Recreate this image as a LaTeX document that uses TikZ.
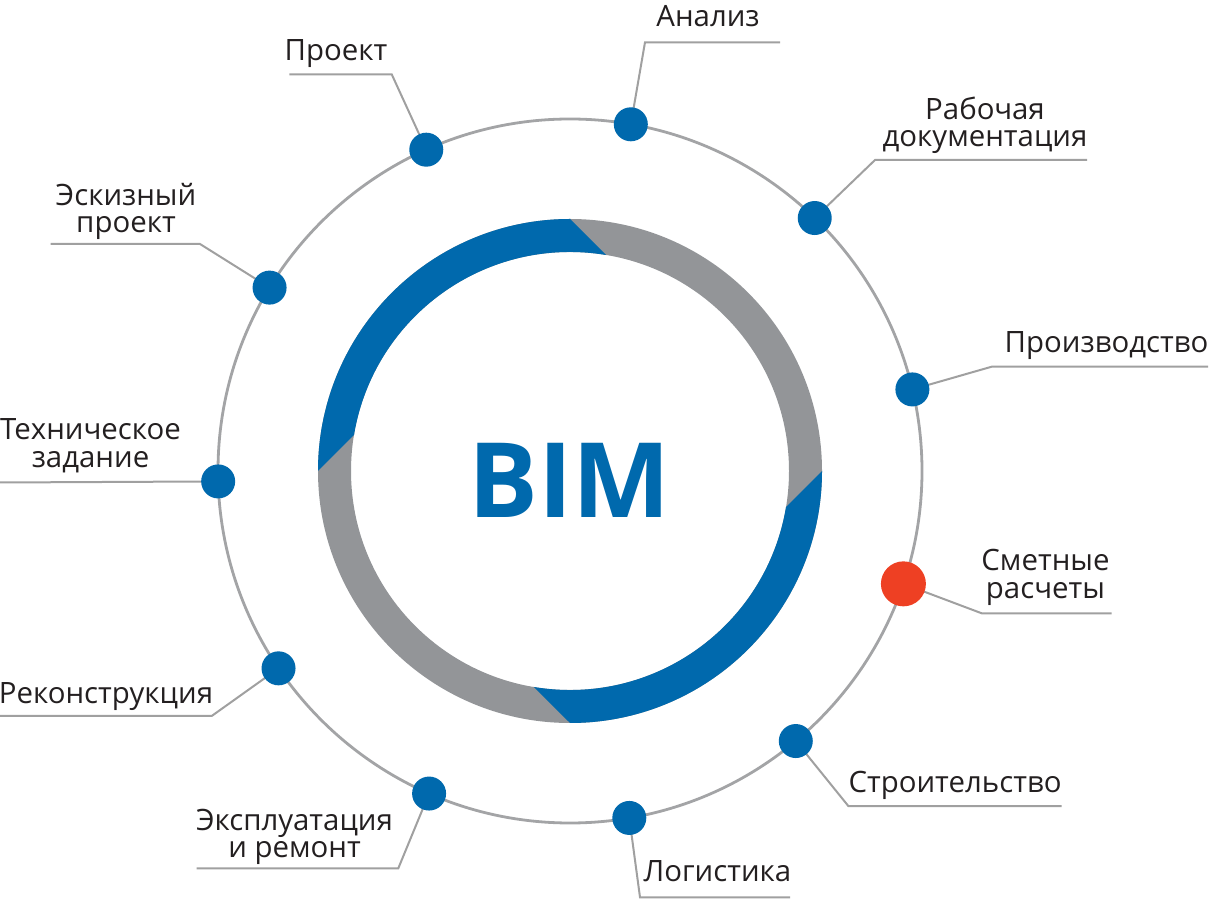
\documentclass[tikz,border=0pt]{standalone}
\usepackage{fontspec}
\setmainfont{Open Sans}
\usetikzlibrary{calc}
\definecolor{bimblue}{HTML}{0069AD}
\definecolor{ringgray}{HTML}{939598}
\definecolor{circgray}{HTML}{A3A4A6}
\definecolor{leadgray}{HTML}{A0A0A0}
\definecolor{txt}{HTML}{231F20}
\definecolor{dotred}{HTML}{EE4023}
\begin{document}
\begin{tikzpicture}[x=1pt,y=1pt,
  lbl/.style={inner sep=0pt, text=txt, font=\fontsize{29.4}{27.5}\selectfont, anchor=base},
  bluedot/.style={circle, fill=bimblue, minimum size=34pt, inner sep=0pt},
  reddot/.style={circle, fill=dotred, minimum size=45pt, inner sep=0pt},
  lead/.style={draw=leadgray, line width=2pt, line join=miter},
  ]
\useasboundingbox (0,0) rectangle (1210,900);
\coordinate (c) at (570,429);
% inner ring
\fill[ringgray, even odd rule] (c) circle[radius=252] (c) circle[radius=219];
\fill[bimblue] ($(c)+(90:252)$) arc[start angle=90,end angle=180,radius=252]
  -- ($(c)+(170.5:219)$) arc[start angle=170.5,end angle=80.5,radius=219] -- cycle;
\fill[bimblue] ($(c)+(270:252)$) arc[start angle=270,end angle=360,radius=252]
  -- ($(c)+(350.5:219)$) arc[start angle=350.5,end angle=260.5,radius=219] -- cycle;
\node[font=\fontsize{104}{104}\selectfont\bfseries, text=bimblue, anchor=base, inner sep=0pt] (bim) at (569.5,382.7) {BIM};
% outer circle
\draw[circgray, line width=2.8pt] (c) circle[radius=352];
% dot positions
\coordinate (p1) at ($(c)+(80.05:352)$);
\coordinate (p2) at ($(c)+(45.95:352)$);
\coordinate (p3) at ($(c)+(13.4:352)$);
\coordinate (p4) at ($(c)+(-18.7:352)$);
\coordinate (p5) at ($(c)+(-50.1:352)$);
\coordinate (p6) at ($(c)+(-80.3:352)$);
\coordinate (p7) at ($(c)+(246.4:352)$);
\coordinate (p8) at ($(c)+(214.1:352)$);
\coordinate (p9) at ($(c)+(181.7:352)$);
\coordinate (p10) at ($(c)+(148.6:352)$);
\coordinate (p11) at ($(c)+(114.1:352)$);
% leader corners and ends
\coordinate (k1) at (645,857.7);   \coordinate (e1) at (780,857.7);
\coordinate (k2) at (875,740);     \coordinate (e2) at (1087,740);
\coordinate (k3) at (991.7,533.3); \coordinate (e3) at (1208,533.3);
\coordinate (k4) at (981.7,286.7); \coordinate (e4) at (1111.7,286.7);
\coordinate (k5) at (848.3,94);    \coordinate (e5) at (1061.7,94);
\coordinate (k6) at (640,2.7);     \coordinate (e6) at (790,2.7);
\coordinate (k7) at (398.3,31.7);  \coordinate (e7) at (196.7,31.7);
\coordinate (k8) at (211.7,184);   \coordinate (e8) at (0,184);
\coordinate (e9) at (0,417.5);
\coordinate (k10) at (200,656);    \coordinate (e10) at (50.7,656);
\coordinate (k11) at (391.7,825.7); \coordinate (e11) at (289.3,825.7);
% leaders
\draw[lead] (p1) -- (k1) -- (e1);
\draw[lead] (p2) -- (k2) -- (e2);
\draw[lead] (p3) -- (k3) -- (e3);
\draw[lead] (p4) -- (k4) -- (e4);
\draw[lead] (p5) -- (k5) -- (e5);
\draw[lead] (p6) -- (k6) -- (e6);
\draw[lead] (p7) -- (k7) -- (e7);
\draw[lead] (p8) -- (k8) -- (e8);
\draw[lead] (p9) -- (e9);
\draw[lead] (p10) -- (k10) -- (e10);
\draw[lead] (p11) -- (k11) -- (e11);
% dots
\node[bluedot] (d1) at (p1) {};
\node[bluedot] (d2) at (p2) {};
\node[bluedot] (d3) at (p3) {};
\node[reddot]  (d4) at (p4) {};
\node[bluedot] (d5) at (p5) {};
\node[bluedot] (d6) at (p6) {};
\node[bluedot] (d7) at (p7) {};
\node[bluedot] (d8) at (p8) {};
\node[bluedot] (d9) at (p9) {};
\node[bluedot] (d10) at (p10) {};
\node[bluedot] (d11) at (p11) {};
% labels
\node[lbl] (t1) at (708,873) {Анализ};
\node[lbl] (t2) at (985,753) {\begin{tabular}[b]{@{}c@{}}Рабочая\\документация\end{tabular}};
\node[lbl] (t3) at (1106.5,547.3) {Производство};
\node[lbl] (t4) at (1045.5,301.7) {\begin{tabular}[b]{@{}c@{}}Сметные\\расчеты\end{tabular}};
\node[lbl] (t5) at (955,107.7) {Строительство};
\node[lbl] (t6) at (717.5,18.3) {Логистика};
\node[lbl] (t7) at (294.5,42.3) {\begin{tabular}[b]{@{}c@{}}Эксплуатация\\и ремонт\end{tabular}};
\node[lbl] (t8) at (106,196.7) {Реконструкция};
\node[lbl] (t9) at (90.5,432.7) {\begin{tabular}[b]{@{}c@{}}Техническое\\задание\end{tabular}};
\node[lbl] (t10) at (126,667.3) {\begin{tabular}[b]{@{}c@{}}Эскизный\\проект\end{tabular}};
\node[lbl] (t11) at (336,839.3) {Проект};
\end{tikzpicture}
\end{document}
